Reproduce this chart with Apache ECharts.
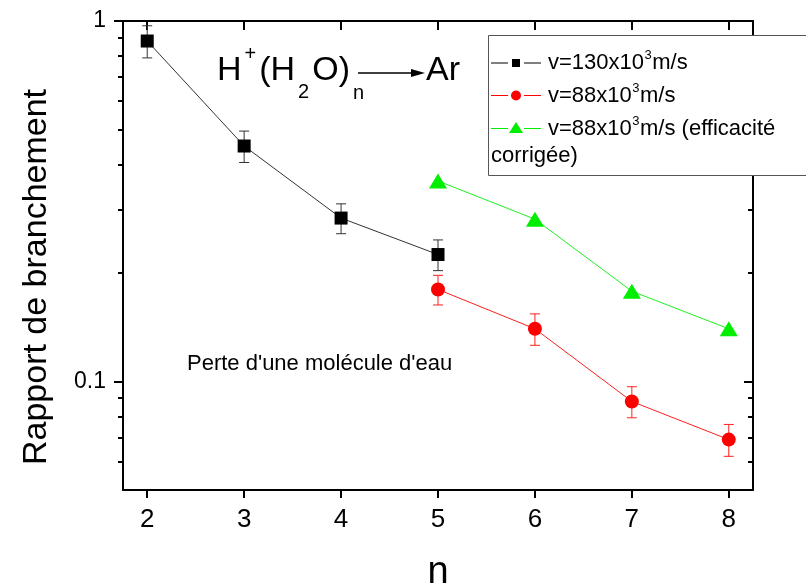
<!DOCTYPE html>
<html><head><meta charset="utf-8">
<script src="https://cdn.jsdelivr.net/npm/echarts@6/dist/echarts.min.js"></script>
<style>html,body{margin:0;padding:0;background:#fff}#c{width:806px;height:587px}</style>
</head><body><div id="c"></div><script>
// ---- data ----
const xTicks = [2, 3, 4, 5, 6, 7, 8];
const yMajorTicks = [0.1, 1];
const yMinorTicks = [0.06, 0.07, 0.08, 0.09, 0.2, 0.3, 0.4, 0.5, 0.6, 0.7, 0.8, 0.9];
const s130_n = [2, 3, 4, 5];
const s130_val = [0.88, 0.45, 0.284, 0.225];
const s130_err = [0.09, 0.045, 0.027, 0.022];
const s88_n = [5, 6, 7, 8];
const s88_val = [0.18, 0.14, 0.088, 0.069];
const s88_err = [0.017, 0.014, 0.0087, 0.007];
const s88c_n = [5, 6, 7, 8];
const s88c_val = [0.36, 0.282, 0.178, 0.14];
const seriesNames = ['v=130x10³m/s', 'v=88x10³m/s', 'v=88x10³m/s (efficacité corrigée)'];
const annotation = "Perte d'une molécule d'eau";
const yTitle = 'Rapport de branchement';
const xTitle = 'n';

const FONT = 'Liberation Sans, Arial, sans-serif';
const zip = (a, b) => a.map((v, i) => [v, b[i]]);
const zip3 = (a, b, c) => a.map((v, i) => [v, b[i], c[i]]);

// text measuring for sub/superscript layout
const mctx = document.createElement('canvas').getContext('2d');
function tw(text, size) { mctx.font = size + 'px ' + FONT; return mctx.measureText(text).width; }
// segments: [text, fontSize, dy]
function richRun(x, y, segs, gap, z) {
  const out = [];
  let cx = x;
  segs.forEach(([t, size, dy]) => {
    out.push({ type: 'text', z: z, x: cx, y: y + dy,
      style: { text: t, fontSize: size, fontFamily: FONT, fill: '#000', verticalAlign: 'middle' } });
    cx += tw(t, size) + gap;
  });
  return out;
}

function errRender(color) {
  return function (params, api) {
    const x = api.value(0), v = api.value(1), e = api.value(2);
    const t = api.coord([x, v + e]);
    const b = api.coord([x, v - e]);
    const hw = 5;
    const st = { stroke: color, lineWidth: 1 };
    return { type: 'group', children: [
      { type: 'line', shape: { x1: t[0], y1: t[1], x2: b[0], y2: b[1] }, style: st },
      { type: 'line', shape: { x1: t[0] - hw, y1: t[1], x2: t[0] + hw, y2: t[1] }, style: st },
      { type: 'line', shape: { x1: b[0] - hw, y1: b[1], x2: b[0] + hw, y2: b[1] }, style: st }
    ]};
  };
}

const axisLineStyle = { show: true, lineStyle: { color: '#000', width: 2 } };
const yBase = { type: 'log', logBase: 10, min: 0.05, max: 1, splitLine: { show: false } };

const graphics = [];
// annotation formula H+(H2O)n -> Ar
graphics.push(...richRun(217, 71, [['H', 34, 0], ['+', 20, -17], ['(H', 34, 0], ['2', 20, 21], ['O)', 34, 0], ['n', 20, 22]], 3, 50));
graphics.push(
  { type: 'line', z: 50, shape: { x1: 358, y1: 73, x2: 414, y2: 73 }, style: { stroke: '#000', lineWidth: 1.5 } },
  { type: 'polygon', z: 50, shape: { points: [[411, 69], [425, 73], [411, 77]] }, style: { fill: '#000' } },
  { type: 'text', z: 50, x: 426, y: 71, style: { text: 'Ar', fontSize: 34, fontFamily: FONT, fill: '#000', verticalAlign: 'middle' } },
  { type: 'text', z: 50, x: 187, y: 364, style: { text: annotation, fontSize: 22, fontFamily: FONT, fill: '#000', verticalAlign: 'middle' } },
  { type: 'text', z: 50, x: 37, y: 277, rotation: Math.PI / 2,
    style: { text: yTitle, fontSize: 34, fontFamily: FONT, fill: '#000', align: 'center', verticalAlign: 'middle' } }
);
// legend box
graphics.push(
  { type: 'rect', z: 60, shape: { x: 488.5, y: 35.5, width: 330, height: 140 }, style: { fill: '#fff', stroke: '#555', lineWidth: 1 } },
  { type: 'line', z: 61, shape: { x1: 491, y1: 63, x2: 508, y2: 63 }, style: { stroke: '#000', lineWidth: 1 } },
  { type: 'line', z: 61, shape: { x1: 524, y1: 63, x2: 541, y2: 63 }, style: { stroke: '#000', lineWidth: 1 } },
  { type: 'rect', z: 61, shape: { x: 512, y: 59, width: 8, height: 8 }, style: { fill: '#000' } },
  { type: 'line', z: 61, shape: { x1: 491, y1: 95.5, x2: 508, y2: 95.5 }, style: { stroke: '#ff0000', lineWidth: 1 } },
  { type: 'line', z: 61, shape: { x1: 524, y1: 95.5, x2: 541, y2: 95.5 }, style: { stroke: '#ff0000', lineWidth: 1 } },
  { type: 'circle', z: 61, shape: { cx: 516, cy: 95.5, r: 5 }, style: { fill: '#ff0000' } },
  { type: 'line', z: 61, shape: { x1: 491, y1: 128.5, x2: 508, y2: 128.5 }, style: { stroke: '#00ee00', lineWidth: 1 } },
  { type: 'line', z: 61, shape: { x1: 524, y1: 128.5, x2: 541, y2: 128.5 }, style: { stroke: '#00ee00', lineWidth: 1 } },
  { type: 'polygon', z: 61, shape: { points: [[509, 133], [516, 122], [523, 133]] }, style: { fill: '#00ee00' } }
);
graphics.push(...richRun(548, 63, [['v=130x10', 22, 0], ['3', 13, -8], ['m/s', 22, 0]], 0.5, 62));
graphics.push(...richRun(548, 96, [['v=88x10', 22, 0], ['3', 13, -8], ['m/s', 22, 0]], 0.5, 62));
graphics.push(...richRun(548, 129, [['v=88x10', 22, 0], ['3', 13, -8], ['m/s (efficacité', 22, 0]], 0.5, 62));
graphics.push({ type: 'text', z: 62, x: 491, y: 156, style: { text: 'corrigée)', fontSize: 22, fontFamily: FONT, fill: '#000', verticalAlign: 'middle' } });

const chart = echarts.init(document.getElementById('c'), null, { renderer: 'canvas' });
chart.setOption({
  backgroundColor: '#fff',
  animation: false,
  grid: { left: 123, top: 21, right: 53, bottom: 97, containLabel: false, outerBoundsMode: 'none' },
  xAxis: [
    { type: 'value', position: 'bottom', min: 1.75, max: 8.25,
      axisLine: axisLineStyle,
      axisTick: { show: true, customValues: xTicks, length: 8, inside: false, lineStyle: { color: '#000', width: 2 } },
      axisLabel: { customValues: xTicks, fontSize: 26, margin: 17, color: '#000', fontFamily: FONT },
      splitLine: { show: false },
      name: xTitle, nameLocation: 'middle', nameGap: 64,
      nameTextStyle: { fontSize: 38, color: '#000', fontFamily: FONT } },
    { type: 'value', position: 'top', min: 1.75, max: 8.25,
      axisLine: axisLineStyle,
      axisTick: { show: true, customValues: xTicks, length: 9, inside: true, lineStyle: { color: '#000', width: 2 } },
      axisLabel: { show: false }, splitLine: { show: false } }
  ],
  yAxis: [
    Object.assign({}, yBase, { position: 'left',
      axisLine: axisLineStyle,
      axisTick: { show: true, customValues: yMajorTicks, length: 9, inside: false, lineStyle: { color: '#000', width: 2 } },
      axisLabel: { customValues: yMajorTicks, fontSize: 23, margin: 17, color: '#000', fontFamily: FONT,
        formatter: v => String(v) } }),
    Object.assign({}, yBase, { position: 'left',
      axisLine: { show: false },
      axisTick: { show: true, customValues: yMinorTicks, length: 5, inside: false, lineStyle: { color: '#000', width: 2 } },
      axisLabel: { show: false } }),
    Object.assign({}, yBase, { position: 'right',
      axisLine: axisLineStyle,
      axisTick: { show: true, customValues: yMajorTicks, length: 9, inside: true, lineStyle: { color: '#000', width: 2 } },
      axisLabel: { show: false } }),
    Object.assign({}, yBase, { position: 'right',
      axisLine: { show: false },
      axisTick: { show: true, customValues: yMinorTicks, length: 5, inside: true, lineStyle: { color: '#000', width: 2 } },
      axisLabel: { show: false } })
  ],
  series: [
    { type: 'custom', name: 'err130', xAxisIndex: 0, yAxisIndex: 0, z: 1,
      data: zip3(s130_n, s130_val, s130_err), encode: { x: 0, y: 1 },
      renderItem: errRender('#333') },
    { type: 'custom', name: 'err88', xAxisIndex: 0, yAxisIndex: 0, z: 1,
      data: zip3(s88_n, s88_val, s88_err), encode: { x: 0, y: 1 },
      renderItem: errRender('#ff2020') },
    { type: 'line', name: seriesNames[0], z: 3, data: zip(s130_n, s130_val),
      symbol: 'rect', symbolSize: 13, lineStyle: { color: '#333', width: 1 },
      itemStyle: { color: '#000' } },
    { type: 'line', name: seriesNames[1], z: 3, data: zip(s88_n, s88_val),
      symbol: 'circle', symbolSize: 14, lineStyle: { color: '#ff2020', width: 1 },
      itemStyle: { color: '#ff0000' } },
    { type: 'line', name: seriesNames[2], z: 3, data: zip(s88c_n, s88c_val),
      symbol: 'triangle', symbolSize: [18, 15], lineStyle: { color: '#20f020', width: 1 },
      itemStyle: { color: '#00ee00' } }
  ],
  graphic: graphics
});
</script></body></html>
